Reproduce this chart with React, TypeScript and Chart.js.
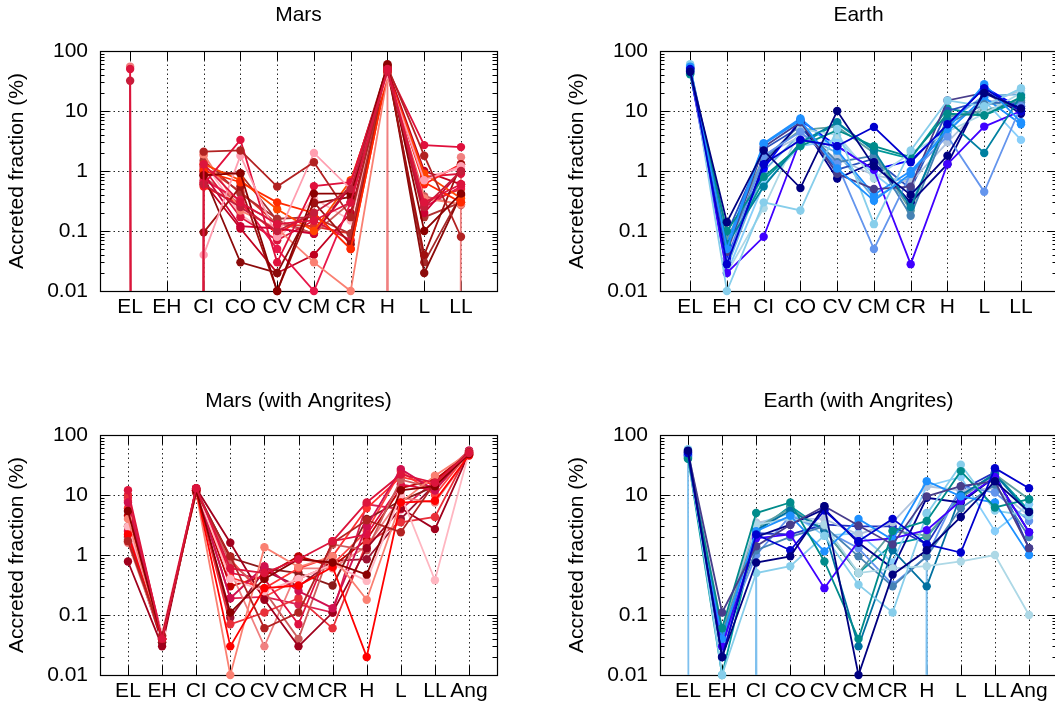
import React, { useEffect, useRef } from "react";
import { Chart, registerables } from "chart.js";
Chart.register(...registerables);

// Z: effectively zero accreted fraction (gnuplot draws these as drops to the axis floor)
const Z = 1e-300;
const N = null;

const catsBasic = ["EL", "EH", "CI", "CO", "CV", "CM", "CR", "H", "L", "LL"];
const catsAng = ["EL", "EH", "CI", "CO", "CV", "CM", "CR", "H", "L", "LL", "Ang"];
const yTickValues = [0.01, 0.1, 1, 10, 100];
const yAxisTitle = "Accreted fraction (%)";

// ---------- Mars ----------
const marsColors = [
  "#dc143c", "#c41e3a", "#8b0000", "#b22222", "#ff9eb0", "#ff2a00", "#e0103c", "#a01010",
  "#ff4500", "#cc0033", "#8b0a0a", "#fa8072", "#e8174a", "#ff1a1a", "#b03030", "#dc143c",
  "#cd5c5c", "#c00020", "#ffb6c1", "#e0302a", "#a52a2a", "#f08080",
];
const marsSeries: (number | null)[][] = [
  [50, Z, 1.3, 0.3, 0.13, 0.15, 0.3, 50, 0.3, 0.6],
  [32, Z, 0.6, 0.25, 0.1, 0.2, 0.5, 45, 0.25, 1.0],
  [N, N, 0.85, 0.92, 0.01, 0.42, 0.42, 60, 0.1, 0.42],
  [N, N, 2.1, 2.2, 0.55, 1.4, 0.17, 55, 1.8, 0.08],
  [N, N, 0.04, 1.8, 0.08, 2.0, 0.5, 40, 0.7, 1.2],
  [N, N, 1.0, 0.65, 0.3, 0.2, 0.05, 45, 0.65, 0.3],
  [N, N, 0.6, 3.3, 0.03, 0.56, 0.65, 50, 2.7, 2.5],
  [N, N, 0.095, 0.55, 0.01, 0.3, 0.06, 48, 0.04, 1.3],
  [N, N, 1.3, 0.7, 0.23, 0.1, 0.7, 42, 0.9, 0.35],
  [N, N, 0.9, 0.12, 0.11, 0.09, 0.55, 52, 0.2, 1.0],
  [N, N, 0.85, 0.03, 0.02, 0.29, 0.37, 58, 0.02, 0.4],
  [N, N, 1.9, 0.22, 0.11, 0.03, 0.01, 38, 0.35, 0.28],
  [N, N, 0.7, 0.33, 0.05, 0.01, 0.3, 47, 0.25, 0.55],
  [N, N, 0.55, 0.28, 0.09, 0.2, 0.05, 44, 0.6, 1.3],
  [N, N, 1.5, 0.42, 0.16, 0.17, 0.09, 53, 0.17, 0.3],
  [N, N, 1.1, 0.17, 0.07, 0.15, 0.07, 46, 0.8, 0.9],
  [N, N, 0.8, 0.28, 0.14, 0.09, 0.3, 41, 0.38, 0.27],
  [N, N, 0.65, 0.11, 0.02, 0.04, 0.2, 50, 1.0, 0.6],
  [N, N, 1.4, 0.19, 0.07, 0.35, 0.15, 36, 0.8, 1.1],
  [N, N, 1.2, 0.45, 0.13, 0.12, 0.09, 49, 0.3, 0.5],
  [N, N, 1.0, 0.9, 0.15, 0.09, 0.6, 57, 0.03, 0.4],
  [55, Z, 1.8, Z, Z, Z, Z, 35, Z, 1.7],
];

// ---------- Earth ----------
const earthColors = [
  "#000080", "#0000cd", "#1e90ff", "#87ceeb", "#008b8b", "#0080a0", "#4000ff", "#483d8b",
  "#6495ed", "#add8e6", "#00008b", "#4682b4", "#1e90ff", "#5f9ea0", "#87cefa", "#0000ff",
  "#b0c4de", "#2a52be", "#009999", "#6ab0e0",
];
const earthSeries: (number | null)[][] = [
  [45, 0.14, 2.2, 0.52, 10, 1.2, 0.4, 1.8, 20, 11],
  [50, 0.028, 1.3, 3.3, 2.6, 5.4, 1.4, 6, 24, 10],
  [55, 0.05, 2.8, 7, 1.1, 0.32, 0.9, 5, 28, 6.5],
  [60, 0.01, 0.3, 0.22, 5, 0.13, 2.2, 15, 12, 24],
  [42, 0.1, 0.8, 2.6, 4.8, 2.6, 1.7, 9, 8.5, 17],
  [48, 0.06, 0.55, 3.0, 6.5, 2.2, 0.25, 7, 2.0, 18],
  [46, 0.02, 0.08, 3.3, 2.6, 1.05, 0.028, 1.3, 5.5, 10],
  [52, 0.045, 2.5, 6.5, 0.9, 0.5, 0.55, 15, 20, 10],
  [44, 0.03, 1.8, 4.5, 1.3, 0.05, 0.9, 3.8, 0.45, 12],
  [58, 0.02, 0.24, 5, 4, 0.75, 2.0, 4.5, 9, 20],
  [50, 0.03, 1.3, 6.5, 0.75, 1.4, 0.3, 1.3, 22, 9],
  [43, 0.05, 1.5, 6, 1.4, 1.8, 0.18, 6, 13, 14],
  [47, 0.06, 2.9, 7.5, 2.2, 0.4, 1.0, 4.5, 17, 6],
  [49, 0.07, 1.7, 4.8, 5.5, 2.0, 0.22, 8, 10, 16],
  [56, 0.02, 0.6, 2.6, 3.3, 0.9, 0.3, 5, 15, 3.3],
  [51, 0.035, 1.1, 7, 2.6, 1.05, 1.5, 5.5, 25, 11],
  [45, 0.04, 1.8, 3.8, 1.6, 0.85, 0.65, 3, 13, 22],
  [53, 0.09, 2.3, 5.5, 1.05, 1.6, 0.5, 10, 15, 12],
  [41, 0.05, 0.7, 2.8, 6.2, 2.3, 1.6, 11, 8.5, 15],
  [57, 0.025, 1.0, 4.2, 2.0, 0.35, 0.8, 6.5, 18, 19],
];

// ---------- Mars (with Angrites) ----------
const marsAngColors = [
  "#dc143c", "#8b0000", "#b22222", "#ff0000", "#fa8072", "#ffb6c1", "#d0104f", "#a0001c",
  "#e9303a", "#cd5c5c", "#ff3030", "#e01040", "#8b1a1a", "#f08080", "#c00000", "#ff4040",
  "#dc2050", "#9b1030",
];
const marsAngSeries: (number | null)[][] = [
  [12, 0.04, 13, 0.6, 0.5, 0.85, 1.7, 7.5, 22, 16, 50],
  [5.4, 0.04, 12, 0.11, 0.4, 0.85, 0.75, 0.47, 12, 14, 48],
  [1.7, 0.045, 11, 0.95, 0.06, 0.11, 1.6, 3.8, 2.4, 16, 52],
  [2.2, 0.04, 12, 0.03, 0.28, 0.31, 0.63, 0.02, 7.5, 8, 46],
  [4, 0.04, 11, 0.01, 1.35, 0.63, 0.95, 0.18, 7.5, 21, 50],
  [3, 0.05, 12, 0.4, 0.25, 0.4, 0.7, 0.37, 10, 0.38, 52],
  [7.5, 0.04, 12.5, 0.19, 0.65, 0.25, 0.13, 3, 27, 12, 55],
  [0.78, 0.03, 13, 1.6, 0.18, 0.03, 0.11, 1.3, 6, 2.7, 50],
  [10, 0.04, 12, 0.07, 0.11, 0.19, 0.06, 1.6, 3.5, 4.3, 53],
  [1.8, 0.045, 11.5, 0.75, 0.25, 0.04, 1.5, 1.2, 18, 13, 48],
  [6, 0.04, 12, 0.42, 0.28, 0.6, 0.95, 6, 20, 15, 47],
  [2.5, 0.04, 12, 0.5, 0.4, 0.07, 1.7, 2.2, 15, 12, 52],
  [3, 0.035, 12, 0.9, 0.6, 0.5, 0.31, 4, 8, 14, 50],
  [1.6, 0.04, 11, 0.55, 0.03, 0.6, 0.6, 1.4, 9, 7.5, 45],
  [4.5, 0.04, 12.5, 0.3, 0.45, 0.95, 0.65, 1.8, 13, 18, 49],
  [8, 0.04, 12, 0.85, 0.2, 0.4, 0.7, 2.5, 25, 10, 51],
  [9, 0.045, 13, 0.19, 0.2, 0.15, 0.11, 7, 5.8, 17, 55],
  [2, 0.035, 12, 0.09, 0.55, 0.3, 0.8, 0.85, 4, 15, 47],
];

// ---------- Earth (with Angrites) ----------
const earthAngColors = [
  "#000080", "#0000cd", "#483d8b", "#008b8b", "#1e90ff", "#4000ff", "#87ceeb", "#add8e6",
  "#4682b4", "#0070a0", "#00008b", "#6495ed", "#5f9ea0", "#b0c4de", "#2030c0", "#87cefa",
  "#009aa0", "#7ec0ee",
];
const earthAngSeries: (number | null)[][] = [
  [55, 0.02, 0.75, 0.95, 6.5, 0.01, 0.47, 1.2, 4.3, 17, 5.2],
  [50, 0.02, 2.2, 1.2, 5.5, 1.7, 4, 1.5, 1.1, 28, 13],
  [52, 0.11, 1.4, 3.2, 6.5, 3.1, 1.5, 9.5, 14, 17, 1.3],
  [40, 0.06, 5, 7.5, 0.78, 0.04, 2.5, 3.7, 25, 6.2, 8.5],
  [48, 0.04, 2.5, 4.5, 1.15, 4, 1.8, 17, 9.5, 7.5, 1.0],
  [46, 0.03, 1.9, 2.2, 0.28, 1.7, 1.9, 2.6, 8, 20, 2.4],
  [58, 0.01, 0.5, 0.65, 2.1, 0.32, 0.11, 4.8, 32, 5.5, 4.5],
  [43, 0.02, 3.2, 4, 3.2, 0.5, 0.6, 0.65, 0.78, 1.0, 0.1],
  [47, 0.05, 1.2, 2.0, 3.0, 0.95, 0.3, 0.95, 6, 15, 2.0],
  [44, 0.03, 2.6, 5.5, 2.6, 0.03, 1.2, 0.3, 10, 22, 5],
  [53, 0.02, 2.0, 3.2, 5.8, 1.6, 0.6, 9, 7.5, 20, 2.4],
  [49, 0.04, 1.0, 4.5, 2.6, 1.3, 0.32, 0.95, 14, 11, 3.7],
  [41, 0.05, 2.8, 6, 2.6, 0.5, 2.5, 2.1, 9, 22, 8.5],
  [56, 0.06, 3.5, 4, 4, 2.2, 3.5, 14, 12, 13, 4.5],
  [51, 0.03, 2.3, 2.2, 3.2, 3.0, 3.0, 1.5, 12, 24, 1.3],
  [57, 0.03, 3.3, 5, 2.1, 2.3, 0.75, 14, 20, 2.5, 7],
  [42, 0.01, 2.4, 6.5, 2.6, 0.5, 1.5, 2.0, 9.5, 23, 5.5],
  [45, Z, 3, Z, Z, Z, Z, 5, Z, Z, Z],
];

const FONT_FAMILY = "'Liberation Sans', Arial, Helvetica, sans-serif";
const FONT_SIZE = 21;
const LINE_H = FONT_SIZE * 1.2;
const CW = 528;
const CH = 352;

const gnuFrame = {
  id: "gnuFrame",
  beforeDatasetsDraw(chart: any) {
    const { ctx, chartArea: a, scales } = chart;
    const xs = scales.x;
    const ys = scales.y;
    ctx.save();
    // dotted grid
    ctx.strokeStyle = "rgba(0,0,0,0.85)";
    ctx.lineWidth = 1;
    ctx.setLineDash([1.5, 3]);
    ctx.beginPath();
    yTickValues.forEach((v) => {
      if (v <= ys.min || v >= ys.max) return;
      const y = Math.round(ys.getPixelForValue(v)) + 0.5;
      ctx.moveTo(a.left, y);
      ctx.lineTo(a.right, y);
    });
    xs.ticks.forEach((t: any) => {
      const x = Math.round(xs.getPixelForValue(t.value)) + 0.5;
      ctx.moveTo(x, a.top);
      ctx.lineTo(x, a.bottom);
    });
    ctx.stroke();
    ctx.setLineDash([]);
    // tick marks
    ctx.strokeStyle = "#000";
    ctx.beginPath();
    for (let e = -2; e <= 2; e++) {
      for (let m = 1; m <= 9; m++) {
        const v = m * Math.pow(10, e);
        if (v > ys.max * 1.0001) continue;
        const y = Math.round(ys.getPixelForValue(v)) + 0.5;
        const len = m === 1 ? 9 : 4.5;
        ctx.moveTo(a.left, y);
        ctx.lineTo(a.left + len, y);
        ctx.moveTo(a.right, y);
        ctx.lineTo(a.right - len, y);
      }
    }
    xs.ticks.forEach((t: any) => {
      const x = Math.round(xs.getPixelForValue(t.value)) + 0.5;
      ctx.moveTo(x, a.top);
      ctx.lineTo(x, a.top + 9);
      ctx.moveTo(x, a.bottom);
      ctx.lineTo(x, a.bottom - 9);
    });
    ctx.stroke();
    // border
    ctx.lineWidth = 1.2;
    ctx.strokeRect(Math.round(a.left) + 0.5, Math.round(a.top) + 0.5, Math.round(a.right - a.left), Math.round(a.bottom - a.top));
    ctx.restore();
  },
};

type PanelProps = {
  title: string;
  cats: string[];
  series: (number | null)[][];
  colors: string[];
  xMin: number;
  xMax: number;
  left: number;
  top: number;
  titleCenter: number;
};

function Panel({ title, cats, series, colors, xMin, xMax, left, top, titleCenter }: PanelProps) {
  const ref = useRef<HTMLCanvasElement>(null);
  useEffect(() => {
    if (!ref.current) return;
    const font = { family: FONT_FAMILY, size: FONT_SIZE };
    const datasets = series.map((vals, i) => {
      const hasZero = vals.some((v) => v !== null && v < 0.01);
      return {
        label: title + " " + i,
        data: vals.map((v, j) => ({ x: j, y: v })),
        borderColor: colors[i],
        backgroundColor: colors[i],
        pointBackgroundColor: colors[i],
        pointBorderColor: colors[i],
        pointBorderWidth: 0,
        pointRadius: 4.2,
        borderWidth: 1.8,
        tension: 0,
        spanGaps: false,
        clip: hasZero ? 0 : (false as any),
      };
    });
    const tTop = titleCenter - LINE_H / 2;
    const chart = new Chart(ref.current, {
      type: "line",
      data: { datasets },
      plugins: [gnuFrame],
      options: {
        animation: false,
        responsive: false,
        devicePixelRatio: 1,
        events: [],
        layout: { padding: { left: 0, right: 31, top: 0, bottom: 0 } },
        plugins: {
          legend: { display: false },
          tooltip: { enabled: false },
          title: {
            display: true,
            text: title,
            color: "#000",
            font: { family: FONT_FAMILY, size: FONT_SIZE, weight: "normal" },
            padding: { top: tTop, bottom: 51 - tTop - LINE_H },
            fullSize: false,
          },
        },
        scales: {
          x: {
            type: "linear",
            min: xMin,
            max: xMax,
            afterBuildTicks: (s: any) => {
              s.ticks = cats.map((_, i) => ({ value: i }));
            },
            afterFit: (s: any) => {
              s.height = CH - 291;
            },
            ticks: {
              callback: (v: any) => cats[v as number] ?? "",
              color: "#000",
              font,
              padding: 4,
              maxRotation: 0,
              autoSkip: false,
            },
            grid: { display: false, drawTicks: false },
            border: { display: false },
          },
          y: {
            type: "logarithmic",
            min: 0.01,
            max: 100,
            afterBuildTicks: (s: any) => {
              s.ticks = yTickValues.map((v) => ({ value: v }));
            },
            afterFit: (s: any) => {
              s.width = 100;
            },
            ticks: {
              callback: (v: any) => String(v),
              color: "#000",
              font,
              padding: 12,
              autoSkip: false,
            },
            grid: { display: false, drawTicks: false },
            border: { display: false },
            title: {
              display: true,
              text: yAxisTitle,
              color: "#000",
              font,
              padding: { top: 17 - LINE_H / 2, bottom: 0 },
            },
          },
        },
      } as any,
    });
    return () => chart.destroy();
  }, []);
  return (
    <canvas
      ref={ref}
      width={CW}
      height={CH}
      style={{ position: "absolute", left, top, width: CW, height: CH, display: "block" }}
    />
  );
}

export default function App() {
  return (
    <div
      style={{
        position: "absolute",
        left: 0,
        top: 0,
        width: 1055,
        height: 704,
        overflow: "hidden",
        background: "#fff",
      }}
    >
      <Panel title="Mars" cats={catsBasic} series={marsSeries} colors={marsColors}
        xMin={-0.82} xMax={9.98} left={0} top={0} titleCenter={15} />
      <Panel title="Earth" cats={catsBasic} series={earthSeries} colors={earthColors}
        xMin={-0.82} xMax={9.98} left={560} top={0} titleCenter={15} />
      <Panel title="Mars (with Angrites)" cats={catsAng} series={marsAngSeries} colors={marsAngColors}
        xMin={-0.82} xMax={10.82} left={0} top={384} titleCenter={17} />
      <Panel title="Earth (with Angrites)" cats={catsAng} series={earthAngSeries} colors={earthAngColors}
        xMin={-0.82} xMax={10.82} left={560} top={384} titleCenter={17} />
    </div>
  );
}
